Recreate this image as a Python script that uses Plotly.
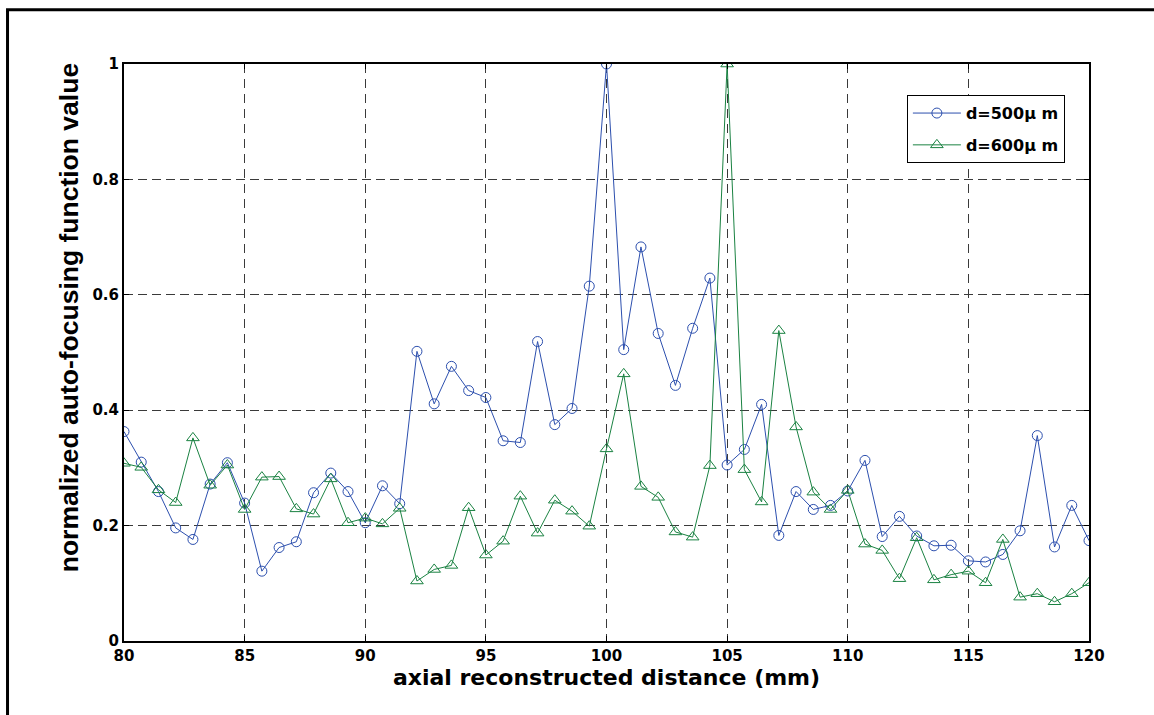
import numpy as np
import plotly.graph_objects as go

# axial positions: 57 samples from 80 to 120 mm
x_start, x_end, n_pts = 80, 120, 57
x_vals = np.linspace(x_start, x_end, n_pts)

d500 = [0.363, 0.310, 0.259, 0.196, 0.176, 0.272, 0.309, 0.239, 0.121, 0.162,
        0.172, 0.257, 0.291, 0.259, 0.205, 0.269, 0.238, 0.502, 0.411, 0.476,
        0.434, 0.422, 0.347, 0.344, 0.519, 0.375, 0.403, 0.615, 1.000, 0.505,
        0.683, 0.533, 0.443, 0.542, 0.629, 0.305, 0.332, 0.410, 0.183, 0.259,
        0.228, 0.235, 0.260, 0.313, 0.181, 0.216, 0.182, 0.165, 0.166, 0.139,
        0.137, 0.150, 0.191, 0.356, 0.163, 0.235, 0.174]

d600 = [0.308, 0.301, 0.262, 0.240, 0.352, 0.270, 0.305, 0.228, 0.284, 0.285,
        0.229, 0.220, 0.281, 0.205, 0.213, 0.203, 0.230, 0.104, 0.124, 0.131,
        0.231, 0.149, 0.173, 0.251, 0.187, 0.244, 0.225, 0.199, 0.333, 0.463,
        0.268, 0.249, 0.189, 0.180, 0.304, 1.000, 0.297, 0.241, 0.538, 0.371,
        0.258, 0.228, 0.261, 0.168, 0.157, 0.108, 0.179, 0.106, 0.115, 0.121,
        0.101, 0.176, 0.076, 0.082, 0.068, 0.082, 0.101]

series_names = ["d=500μ m", "d=600μ m"]
x_ticks = [80, 85, 90, 95, 100, 105, 110, 115, 120]
y_ticks = [0, 0.2, 0.4, 0.6, 0.8, 1]
y_tick_labels = ["0", "0.2", "0.4", "0.6", "0.8", "1"]
x_title = "axial reconstructed distance (mm)"
y_title = "normalized auto-focusing function value"

blue = "#2c4fae"
green = "#1a8242"

fig = go.Figure()
fig.add_trace(go.Scatter(
    x=x_vals, y=d500, name=series_names[0], mode="lines+markers",
    legendgroup="a",
    line=dict(color=blue, width=1),
    marker=dict(symbol="circle-open", size=10, color=blue, line=dict(width=1)),
    cliponaxis=True,
))
fig.add_trace(go.Scatter(
    x=x_vals, y=d600, name=series_names[1], mode="lines+markers",
    legendgroup="b",
    line=dict(color=green, width=1),
    marker=dict(symbol="triangle-up-open", size=11, color=green, line=dict(width=1)),
    cliponaxis=True,
))

wide_font = "DejaVu Sans, Verdana, sans-serif"
narrow_font = "Liberation Sans, Arial, sans-serif"

fig.update_layout(
    width=1154, height=715,
    margin=dict(l=124, r=65, t=64, b=74),
    paper_bgcolor="white", plot_bgcolor="white",
    font=dict(family=wide_font, color="black"),
    showlegend=True,
    legend=dict(
        x=0.975, y=0.946, xanchor="right", yanchor="top",
        bgcolor="white", bordercolor="black", borderwidth=1,
        font=dict(size=16, family=wide_font, color="black", weight="bold"),
        itemwidth=48, traceorder="grouped", tracegroupgap=8,
    ),
    shapes=[dict(
        type="rect", xref="paper", yref="paper",
        x0=-0.1207, x1=1.3, y0=-0.3, y1=1.094,
        line=dict(color="black", width=3), layer="above",
    )],
    annotations=[dict(
        text=y_title, textangle=-90, xref="paper", yref="paper",
        x=-0.057, y=0.561, xanchor="center", yanchor="middle", showarrow=False,
        font=dict(size=26.5, family=narrow_font, color="black", weight="bold"),
    )],
)

fig.update_xaxes(
    range=[x_start, x_end], tickvals=x_ticks,
    showline=True, linecolor="black", linewidth=2, mirror="ticks",
    ticks="inside", ticklen=5, tickcolor="black",
    showgrid=True, gridcolor="#3a3a3a", gridwidth=1, griddash="9px,6px",
    zeroline=False,
    tickfont=dict(size=15, family=wide_font, color="black", weight="bold"),
    title=dict(text=x_title, standoff=2,
               font=dict(size=22, family=wide_font, color="black", weight="bold")),
)
fig.update_yaxes(
    range=[0, 1], tickvals=y_ticks, ticktext=y_tick_labels,
    showline=True, linecolor="black", linewidth=2, mirror="ticks",
    ticks="inside", ticklen=5, tickcolor="black",
    showgrid=True, gridcolor="#3a3a3a", gridwidth=1, griddash="9px,5px",
    zeroline=False,
    tickfont=dict(size=15, family=wide_font, color="black", weight="bold"),
)

fig.write_html("out.html", post_script="document.body.style.margin='0';",
               config={"displayModeBar": False})
